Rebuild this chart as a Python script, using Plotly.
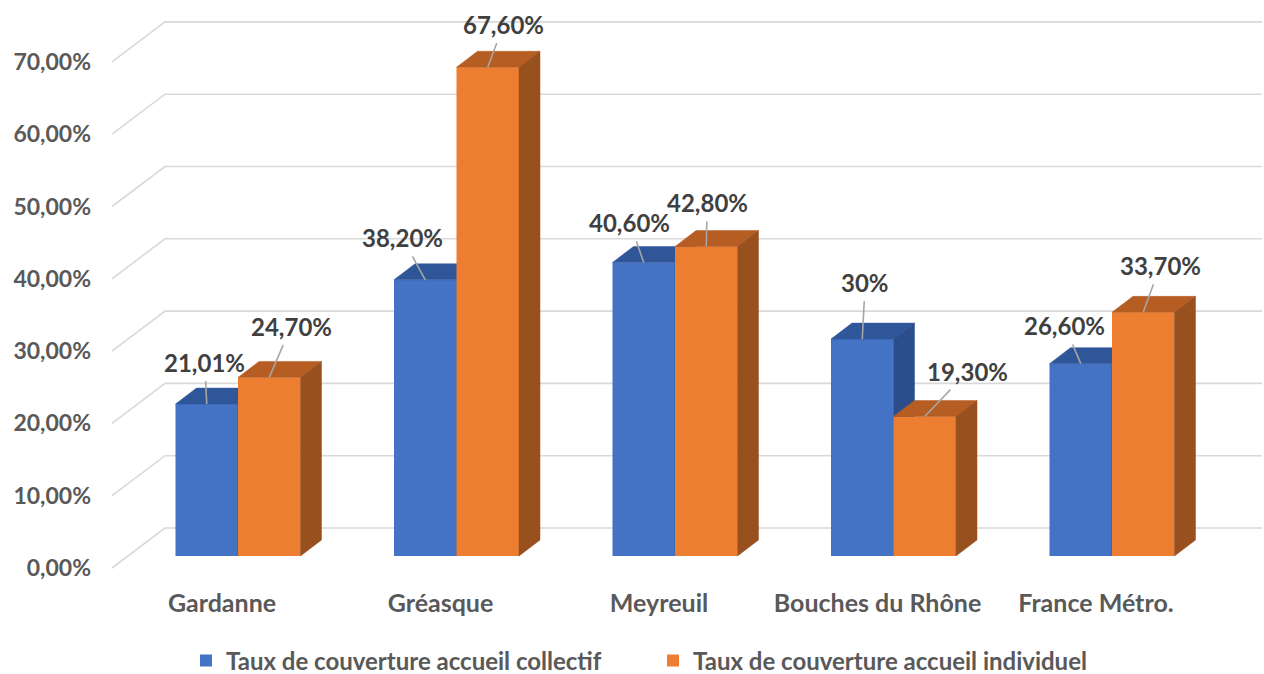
import plotly.graph_objects as go

# ---------------- data ----------------
categories = ["Gardanne", "Gréasque", "Meyreuil", "Bouches du Rhône", "France Métro."]
collectif = [21.01, 38.20, 40.60, 30.0, 26.60]
individuel = [24.70, 67.60, 42.80, 19.30, 33.70]
collectif_labels = ["21,01%", "38,20%", "40,60%", "30%", "26,60%"]
individuel_labels = ["24,70%", "67,60%", "42,80%", "19,30%", "33,70%"]
series_names = ["Taux de couverture accueil collectif", "Taux de couverture accueil individuel"]
tick_values = [0, 10, 20, 30, 40, 50, 60, 70]
tick_labels = ["0,00%", "10,00%", "20,00%", "30,00%", "40,00%", "50,00%", "60,00%", "70,00%"]

# ---------------- layout / geometry (pixels) ----------------
W, H = 1264, 674
ML, MR, MT, MB = 100, 2, 10, 94
PX_CAT = 218.5          # pixels per category
PX_PCT = 7.23           # pixels per percent
FIRST_CAT_PX = 238      # pixel x of first category centre
ZERO_FRONT = 556        # pixel y of 0 on bar front plane
ZERO_LABEL = 568        # pixel y of 0 on the front edge of floor (tick labels)
BAR_W = 62.5 / PX_CAT   # bar width in category units
DDX = 21 / PX_CAT       # depth offset of bars
DDY = 16 / PX_PCT
FLOOR_FRONT_X = 112     # px
WALL_X = 165            # px
WALL_DY = (ZERO_LABEL - 528) / PX_PCT
CAT_LABEL_SHIFT = -16 / PX_CAT

# label offsets (pixels) for data labels: (ax, ay)
coll_offsets = [(-2, -42), (-23, -42), (-14, -40), (3, -57), (-16, -38)]
ind_offsets = [(22, -51), (16, -43), (1, -44), (43, -45), (17, -47)]

BLUE, BLUE_TOP, BLUE_SIDE = "#4472C4", "#30569A", "#2B4D8B"
ORANGE, ORANGE_TOP, ORANGE_SIDE = "#ED7D31", "#B55D22", "#98501F"
GRID = "#D9D9D9"
FONT = "Lato"

xmin = -(FIRST_CAT_PX - ML) / PX_CAT
xmax = xmin + (W - ML - MR) / PX_CAT
front_range = [-(H - MB - ZERO_FRONT) / PX_PCT, (ZERO_FRONT - MT) / PX_PCT]
label_range = [-(H - MB - ZERO_LABEL) / PX_PCT, (ZERO_LABEL - MT) / PX_PCT]

fig = go.Figure()

# gridlines (floor diagonal + back wall) on base axes
gx, gy = [], []
x_front = xmin + (FLOOR_FRONT_X - ML) / PX_CAT
x_wall = xmin + (WALL_X - ML) / PX_CAT
for v in tick_values:
    gx += [x_front, x_wall, xmax, None]
    gy += [v, v + WALL_DY, v + WALL_DY, None]
fig.add_trace(go.Scatter(x=gx, y=gy, mode="lines", line=dict(color=GRID, width=1.6),
                         hoverinfo="skip", showlegend=False, xaxis="x", yaxis="y"))


def add_series(values, side, color, top_c, side_c, name, yaxis):
    xs = [i + side * BAR_W / 2 for i in range(len(values))]
    fig.add_trace(go.Bar(x=xs, y=values, width=BAR_W, marker=dict(color=color, line=dict(width=0)),
                         name=name, showlegend=True, xaxis="x", yaxis=yaxis, hoverinfo="skip"))
    tx, ty, sx, sy = [], [], [], []
    for xc, v in zip(xs, values):
        x0, x1 = xc - BAR_W / 2, xc + BAR_W / 2
        tx += [x0, x1, x1 + DDX, x0 + DDX, x0, None]
        ty += [v, v, v + DDY, v + DDY, v, None]
        sx += [x1, x1, x1 + DDX, x1 + DDX, x1, None]
        sy += [0, v, v + DDY, DDY, 0, None]
    fig.add_trace(go.Scatter(x=tx, y=ty, fill="toself", fillcolor=top_c, mode="lines",
                             line=dict(color=top_c, width=0.5), hoverinfo="skip",
                             showlegend=False, xaxis="x", yaxis=yaxis))
    fig.add_trace(go.Scatter(x=sx, y=sy, fill="toself", fillcolor=side_c, mode="lines",
                             line=dict(color=side_c, width=0.5), hoverinfo="skip",
                             showlegend=False, xaxis="x", yaxis=yaxis))
    return xs


xs_c = add_series(collectif, -1, BLUE, BLUE_TOP, BLUE_SIDE, series_names[0], "y2")
xs_i = add_series(individuel, 1, ORANGE, ORANGE_TOP, ORANGE_SIDE, series_names[1], "y3")

annotations = []
for xs, vals, labs, offs in [(xs_c, collectif, collectif_labels, coll_offsets),
                             (xs_i, individuel, individuel_labels, ind_offsets)]:
    for xc, v, lab, (ax, ay) in zip(xs, vals, labs, offs):
        annotations.append(dict(x=xc, y=v, xref="x", yref="y2", text=lab, showarrow=True,
                                ax=ax, ay=ay, arrowhead=0, arrowwidth=1.6, arrowcolor="#A6A6A6",
                                standoff=0, startstandoff=3,
                                font=dict(family=FONT, size=24, color="#404040", weight="bold")))

axis_common = dict(showgrid=False, zeroline=False, showline=False, fixedrange=True, automargin=False)
fig.update_layout(
    width=W, height=H,
    margin=dict(l=ML, r=MR, t=MT, b=MB, autoexpand=False),
    paper_bgcolor="white", plot_bgcolor="rgba(0,0,0,0)",
    barmode="overlay",
    xaxis=dict(range=[xmin, xmax], tickvals=[i + CAT_LABEL_SHIFT for i in range(len(categories))],
               ticktext=categories, ticks="", ticklabelstandoff=6,
               tickfont=dict(family=FONT, size=25, color="#595959", weight="bold"), **axis_common),
    yaxis=dict(range=label_range, tickvals=tick_values, ticktext=tick_labels, ticks="",
               ticklabelstandoff=8,
               tickfont=dict(family=FONT, size=23, color="#595959", weight="bold"), **axis_common),
    yaxis2=dict(range=front_range, overlaying="y", showticklabels=False, **axis_common),
    yaxis3=dict(range=front_range, overlaying="y", showticklabels=False, **axis_common),
    legend=dict(orientation="h", x=(186 - ML) / (W - ML - MR), xanchor="left",
                y=(H - MB - 661) / (H - MB - MT), yanchor="middle",
                entrywidth=422, entrywidthmode="pixels",
                font=dict(family=FONT, size=24, color="#595959", weight="bold"),
                bgcolor="rgba(0,0,0,0)"),
    annotations=annotations,
    showlegend=True,
)

fig.write_html("out.html", config={"displayModeBar": False, "staticPlot": True},
               post_script="document.body.style.margin='0';document.body.style.padding='0';"
                           "document.body.style.overflow='hidden';")
